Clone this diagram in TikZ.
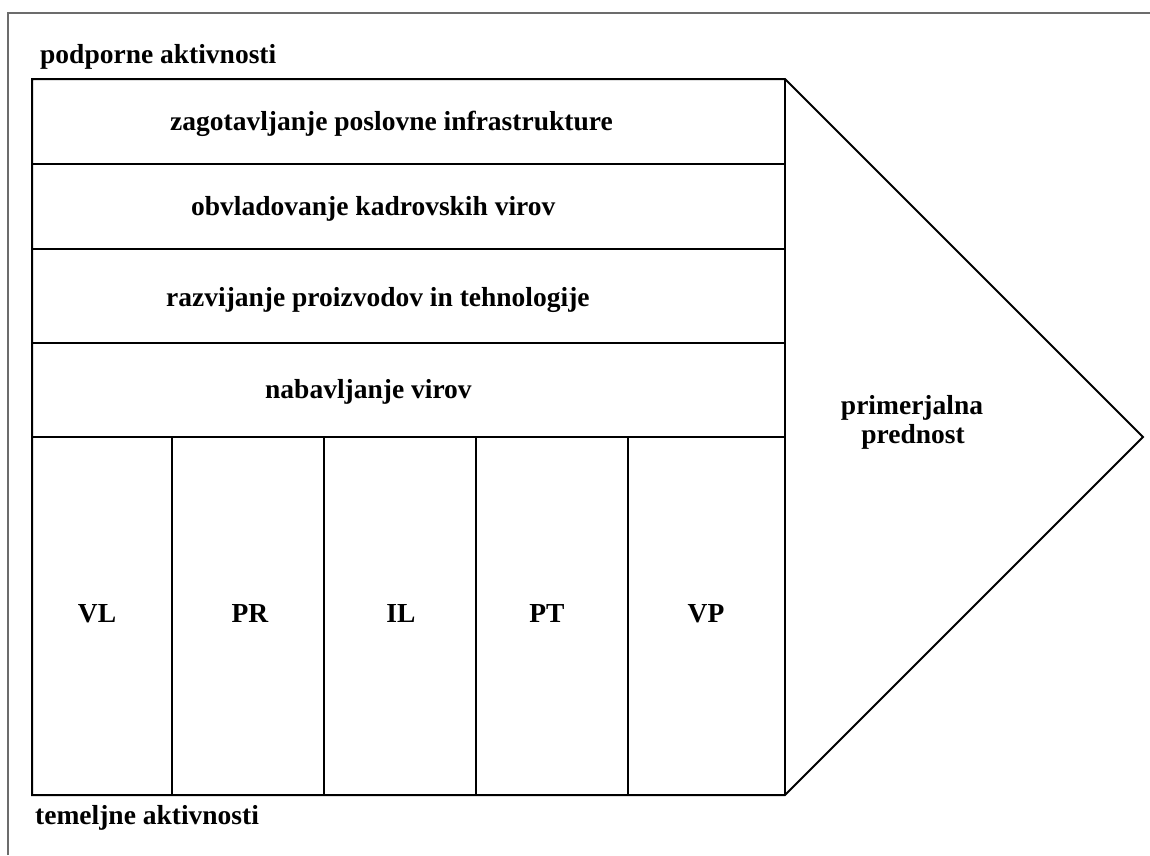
\documentclass[tikz,border=0pt]{standalone}
\usepackage{fontspec}
\setmainfont{Liberation Serif}
\begin{document}
\begin{tikzpicture}[x=1pt,y=-1pt,
  box/.style={draw=black,line width=2pt},
  lbl/.style={font=\fontsize{27.5}{33}\selectfont\bfseries,inner sep=0pt,anchor=base},
  side/.style={font=\fontsize{27.5}{33}\selectfont\bfseries,inner sep=0pt,anchor=base west}]
\useasboundingbox (0,0) rectangle (1150,855);
\fill[white] (0,0) rectangle (1150,855);
% outer frame
\draw[gray!85!black,line width=2pt] (8,855) -- (8,13) -- (1150,13);
% coordinates
\coordinate (tl) at (32,79);
\coordinate (tr) at (785,79);
\coordinate (bl) at (32,795);
\coordinate (br) at (785,795);
\coordinate (tip) at (1143,437);
% chevron outline
\draw[box,line join=miter] (tl) -- (tr) -- (tip) -- (br) -- (bl) -- cycle;
\draw[box] (tr) -- (br);
% row dividers
\foreach \y in {164,249,343,437} \draw[box] (32,\y) -- (785,\y);
% column dividers
\foreach \x in {172,324,476,628} \draw[box] (\x,437) -- (\x,795);
% labels
\node[side] (sup) at (40,63) {podporne aktivnosti};
\node[side] (prim) at (35,824) {temeljne aktivnosti};
\node[side] (r1) at (170,130) {zagotavljanje poslovne infrastrukture};
\node[side] (r2) at (191,215) {obvladovanje kadrovskih virov};
\node[side] (r3) at (166,306) {razvijanje proizvodov in tehnologije};
\node[side] (r4) at (265,398) {nabavljanje virov};
\node[lbl] (c1) at (97,622) {VL};
\node[lbl] (c2) at (250,622) {PR};
\node[lbl] (c3) at (401,622) {IL};
\node[lbl] (c4) at (547,622) {PT};
\node[lbl] (c5) at (706,622) {VP};
\node[lbl] (ca1) at (912,414) {primerjalna};
\node[lbl] (ca2) at (913,443) {prednost};
\end{tikzpicture}
\end{document}
